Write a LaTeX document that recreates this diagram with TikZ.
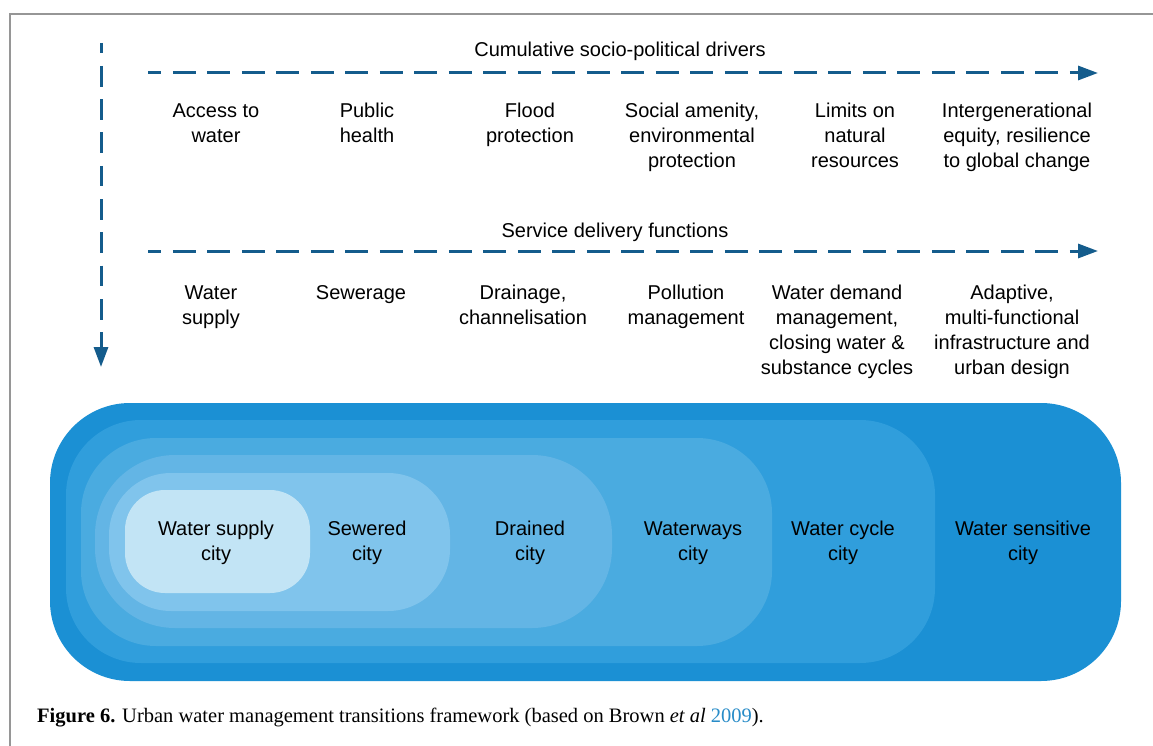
\documentclass[tikz,border=0pt]{standalone}
\usepackage{fontspec}
\setmainfont{Liberation Sans}
\newfontfamily\capfont{Liberation Serif}
\usetikzlibrary{arrows.meta}
\definecolor{arrowblue}{RGB}{20,92,140}
\definecolor{framegray}{RGB}{150,150,150}
\definecolor{linkblue}{RGB}{40,140,200}
\definecolor{citySupply}{RGB}{194,228,245}
\definecolor{citySewer}{RGB}{128,196,236}
\definecolor{cityDrain}{RGB}{99,181,229}
\definecolor{cityWay}{RGB}{74,171,224}
\definecolor{cityCycle}{RGB}{48,158,220}
\definecolor{citySense}{RGB}{27,144,212}
\begin{document}
\begin{tikzpicture}[x=1pt,y=-1pt,
    flow/.style={arrowblue,line width=3pt,dash pattern=on 22.7pt off 11.8pt,
      -{Triangle[length=20pt,width=14pt]}},
    lbl/.style={font=\fontsize{20}{25}\selectfont,align=center,anchor=north,inner sep=0pt},
    head/.style={font=\fontsize{20}{25}\selectfont,anchor=base,inner sep=0pt}]
    \useasboundingbox (0,0) rectangle (1153,746);
    \fill[white] (0,0) rectangle (1153,746);
    %% frame
    \draw[framegray,line width=2pt] (10,746) -- (10,14) -- (1153,14);
    %% time axis
    \coordinate (timeTop) at (101,43);
    \coordinate (timeEnd) at (101,367);
    \draw[flow,dash pattern=on 20.7pt off 12.6pt,dash phase=10.4pt] (timeTop) -- (timeEnd);
    %% drivers
    \node[head] (drvHead) at (620,57) {Cumulative socio-political drivers};
    \coordinate (drvStart) at (148,73);
    \coordinate (drvEnd) at (1098,73);
    \draw[flow,dash phase=9.7pt] (drvStart) -- (drvEnd);
    \node[lbl] (drvA) at (216,99.5) {\strut Access to\\water};
    \node[lbl] (drvB) at (367,99.5) {\strut Public\\health};
    \node[lbl] (drvC) at (530,99.5) {\strut Flood\\protection};
    \node[lbl] (drvD) at (692,99.5) {\strut Social amenity,\\environmental\\protection};
    \node[lbl] (drvE) at (855,99.5) {\strut Limits on\\natural\\resources};
    \node[lbl] (drvF) at (1017,99.5) {\strut Intergenerational\\equity, resilience\\to global change};
    %% services
    \node[head] (srvHead) at (615,237) {Service delivery functions};
    \coordinate (srvStart) at (148,251);
    \coordinate (srvEnd) at (1098,251);
    \draw[flow,dash phase=9.7pt] (srvStart) -- (srvEnd);
    \node[lbl] (srvA) at (211,281.5) {\strut Water\\supply};
    \node[lbl] (srvB) at (361,281.5) {\strut Sewerage};
    \node[lbl] (srvC) at (523,281.5) {\strut Drainage,\\channelisation};
    \node[lbl] (srvD) at (686,281.5) {\strut Pollution\\management};
    \node[lbl] (srvE) at (837,281.5) {\strut Water demand\\management,\\closing water \&\\substance cycles};
    \node[lbl] (srvF) at (1012,281.5) {\strut Adaptive,\\multi-functional\\infrastructure and\\urban design};
    %% nested cities
    \fill[citySense,rounded corners=80pt] (50,403) rectangle (1121,681);
    \fill[cityCycle,rounded corners=75pt] (66,420) rectangle (935,663);
    \fill[cityWay,rounded corners=75pt] (81,438) rectangle (772,646);
    \fill[cityDrain,rounded corners=80pt] (95,455) rectangle (612,628);
    \fill[citySewer,rounded corners=62pt] (109,473) rectangle (450,611);
    \fill[citySupply,rounded corners=40pt] (125,490) rectangle (310,593);
    \node[lbl] (cityA) at (216,517.5) {\strut Water supply\\city};
    \node[lbl] (cityB) at (367,517.5) {\strut Sewered\\city};
    \node[lbl] (cityC) at (530,517.5) {\strut Drained\\city};
    \node[lbl] (cityD) at (693,517.5) {\strut Waterways\\city};
    \node[lbl] (cityE) at (843,517.5) {\strut Water cycle\\city};
    \node[lbl] (cityF) at (1023,517.5) {\strut Water sensitive\\city};
    %% caption
    \node[anchor=base west,inner sep=0pt,font=\capfont\fontsize{20.5}{24}\selectfont] (caption) at (37,722)
      {\textbf{Figure 6.} Urban water management transitions framework (based on Brown \textit{et al} \textcolor{linkblue}{2009}).};
\end{tikzpicture}
\end{document}
